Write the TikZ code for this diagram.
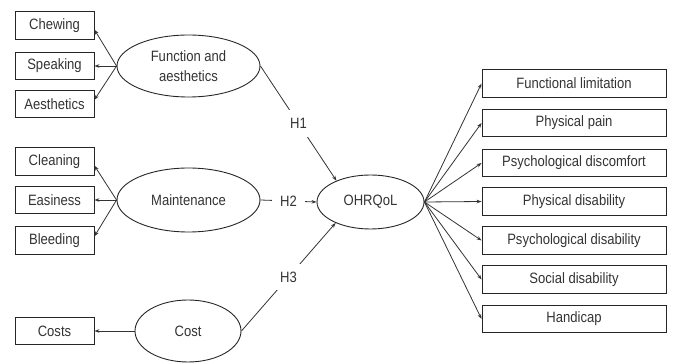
\documentclass[tikz,border=0pt]{standalone}
\usepackage{fontspec}
\setmainfont{Liberation Sans}[FakeStretch=0.87]
\usetikzlibrary{arrows.meta,shapes.geometric}
\begin{document}
\begin{tikzpicture}[x=1pt,y=-1pt,
  font=\fontsize{15}{19.5}\selectfont, text=black!80,
  box/.style={draw=black!85, line width=0.9pt, minimum height=27.5pt, inner sep=0pt},
  lbox/.style={box, minimum width=79pt},
  rbox/.style={box, minimum width=184pt},
  lat/.style={draw=black!85, ellipse, line width=0.9pt, inner sep=0pt, align=center},
  arr/.style={-{Stealth[length=5pt,width=3.6pt]}, draw=black!80, line width=0.8pt},
  hl/.style={fill=white, inner xsep=8pt, inner ysep=8pt}]
\useasboundingbox (0,0) rectangle (673,363);
% left indicators
\node[lbox] (chew)  at (54.5,25.5)  {Chewing};
\node[lbox] (speak) at (54.5,66)    {Speaking};
\node[lbox] (aes)   at (54.5,104)   {Aesthetics};
\node[lbox] (clean) at (54.5,161.5) {Cleaning};
\node[lbox] (eas)   at (54.5,200)   {Easiness};
\node[lbox] (bleed) at (54.5,240.5) {Bleeding};
\node[lbox] (costs) at (54.5,331)   {Costs};
% right indicators
\node[rbox] (fl)  at (574,83.5)  {Functional limitation};
\node[rbox] (pp)  at (574,123)   {Physical pain};
\node[rbox] (pdc) at (574,163)   {Psychological discomfort};
\node[rbox] (pdi) at (574,201.5) {Physical disability};
\node[rbox] (psd) at (574,240.5) {Psychological disability};
\node[rbox] (sd)  at (574,279.5) {Social disability};
\node[rbox] (hc)  at (574,319)   {Handicap};
% latent variables
\node[lat, minimum width=143pt, minimum height=62pt] (fa) at (188.5,66) {Function and\\aesthetics};
\node[lat, minimum width=143pt, minimum height=64pt] (mt) at (188.5,200) {Maintenance};
\node[lat, minimum width=106pt, minimum height=62pt] (co) at (188,331) {Cost};
\node[lat, minimum width=107pt, minimum height=54pt] (oh) at (370.5,202) {OHRQoL};
% measurement arrows left
\draw[arr] (fa.west) -- (chew.-6);
\draw[arr] (fa.west) -- (speak.east);
\draw[arr] (fa.west) -- (aes.6);
\draw[arr] (mt.west) -- (clean.-6);
\draw[arr] (mt.west) -- (eas.east);
\draw[arr] (mt.west) -- (bleed.6);
\draw[arr] (co.west) -- (costs.east);
% measurement arrows right
\foreach \b in {fl,pp,pdc,pdi,psd,sd,hc}
  \draw[arr] (oh.east) -- (\b.west);
% hypotheses
\draw[arr] (fa.east) -- node[hl]{H1} (oh.148);
\draw[arr] (mt.east) -- node[hl]{H2} (oh.west);
\draw[arr] (co.east) -- node[hl]{H3} (oh.211);
\end{tikzpicture}
\end{document}
